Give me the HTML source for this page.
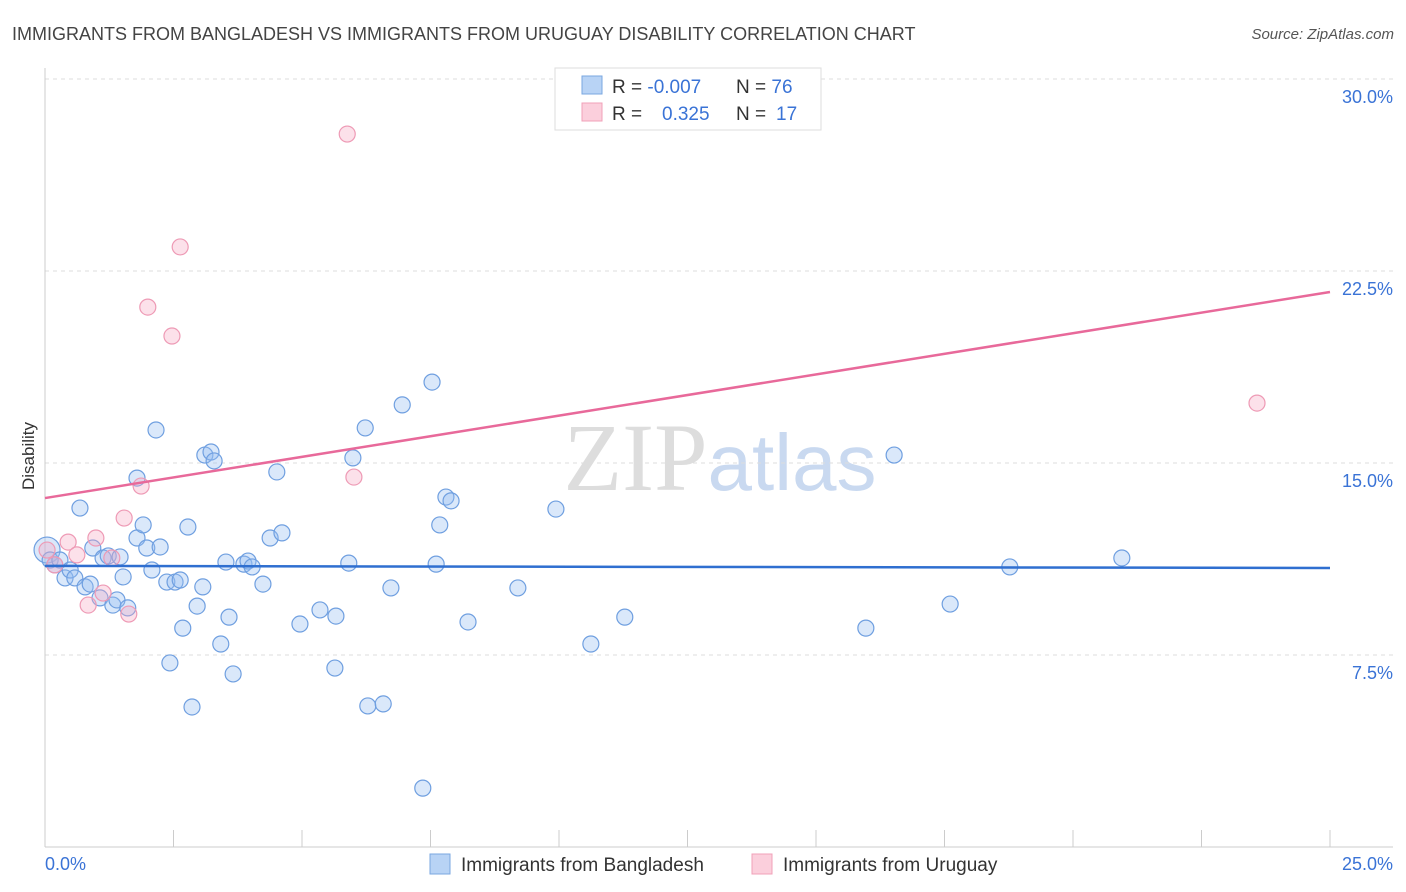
<!DOCTYPE html>
<html><head><meta charset="utf-8"><style>
body{margin:0;background:#fff;font-family:"Liberation Sans",sans-serif;}
</style></head><body>
<svg id="chart" width="1406" height="892" xmlns="http://www.w3.org/2000/svg" style="display:block">
<text x="12" y="40" font-size="18" fill="#444">IMMIGRANTS FROM BANGLADESH VS IMMIGRANTS FROM URUGUAY DISABILITY CORRELATION CHART</text>
<text x="1394" y="39" font-size="15" fill="#555" text-anchor="end" font-style="italic">Source: ZipAtlas.com</text>
<text x="720" y="490" font-size="96" text-anchor="middle" fill="#ddd" font-family="Liberation Serif">ZIP<tspan fill="#c9d9f0" font-family="Liberation Sans" font-size="80">atlas</tspan></text>
<g id="grid"></g><g id="axes"></g><g id="pts"></g><g id="trend"></g>
<text transform="translate(34,456) rotate(-90)" font-size="17" fill="#333" text-anchor="middle">Disability</text>
<g>
<rect x="555" y="68" width="266" height="62" fill="#fff" stroke="#ddd"/>
<rect x="582" y="76" width="20" height="18" fill="#b8d3f5" stroke="#7aa7e0"/>
<rect x="582" y="103" width="20" height="18" fill="#fbcfdc" stroke="#f0a0b8"/>
<text x="612" y="93" font-size="19" fill="#333">R = <tspan fill="#3a73d6">-0.007</tspan>  <tspan x="736">N = </tspan><tspan fill="#3a73d6">76</tspan></text>
<text x="612" y="120" font-size="19" fill="#333">R = <tspan x="662" fill="#3a73d6">0.325</tspan><tspan x="736">N = </tspan><tspan x="776" fill="#3a73d6">17</tspan></text>
</g>
<g>
<rect x="430" y="854" width="20" height="20" fill="#b8d3f5" stroke="#7aa7e0"/>
<text x="461" y="871" font-size="19" fill="#333">Immigrants from Bangladesh</text>
<rect x="752" y="854" width="20" height="20" fill="#fbcfdc" stroke="#f0a0b8"/>
<text x="783" y="871" font-size="19" fill="#333">Immigrants from Uruguay</text>
</g>
</svg>
<script>
const yTicks=[7.5,15,22.5,30];
const yTickLabels=["7.5%","15.0%","22.5%","30.0%"];
const xTicks=[0,2.5,5,7.5,10,12.5,15,17.5,20,22.5,25];
const blueX=[0.04,0.10,0.19,0.29,0.39,0.49,0.58,0.68,0.78,0.88,0.93,1.07,1.13,1.23,1.32,1.40,1.46,1.52,1.61,1.79,1.79,1.91,1.98,2.08,2.16,2.24,2.37,2.43,2.53,2.63,2.68,2.78,2.86,2.96,3.07,3.11,3.23,3.29,3.42,3.52,3.58,3.66,3.87,3.95,4.03,4.24,4.38,4.51,4.61,4.96,5.35,5.64,5.66,5.91,5.99,6.23,6.28,6.58,6.73,6.95,7.35,7.53,7.61,7.68,7.80,7.90,8.23,9.20,9.94,10.62,11.28,15.97,16.52,17.61,18.77,20.95];
const blueY=[11.60,11.21,11.02,11.21,10.51,10.82,10.51,13.24,10.16,10.27,11.68,9.73,11.29,11.37,9.45,9.65,11.33,10.55,9.34,14.41,12.07,12.58,11.68,10.82,16.29,11.72,10.35,7.19,10.35,10.43,8.55,12.50,5.47,9.41,10.16,15.31,15.43,15.08,7.93,11.13,8.98,6.76,11.05,11.17,10.94,10.27,12.07,14.65,12.27,8.71,9.26,6.99,9.02,11.09,15.20,16.37,5.51,5.59,10.12,17.27,2.30,18.16,11.05,12.58,13.67,13.52,8.79,10.12,13.20,7.93,8.98,8.55,15.31,9.49,10.94,11.29];
const pinkX=[0.04,0.19,0.45,0.62,0.84,0.99,1.13,1.30,1.54,1.63,1.87,2.00,2.47,2.63,5.88,6.01,23.58];
const pinkY=[11.60,11.02,11.91,11.41,9.45,12.07,9.92,11.29,12.85,9.10,14.10,21.09,19.96,23.44,27.85,14.45,17.34];
const blueTrend=[10.98,10.90];
const pinkTrend=[13.63,21.68];
const NS="http://www.w3.org/2000/svg";
const sx=v=>45+v*51.4, sy=v=>847-v*25.6;
function mk(tag,attrs,parent){const e=document.createElementNS(NS,tag);for(const k in attrs)e.setAttribute(k,attrs[k]);document.getElementById(parent).appendChild(e);return e;}
yTicks.forEach((t,i)=>{
 const g=mk('line',{x1:45,x2:1393,y1:sy(t),y2:sy(t),stroke:'#ddd','stroke-dasharray':'4,4'},'grid');
 
 
 const l=mk('text',{x:1393,y:sy(t)+24,'text-anchor':'end','font-size':18,fill:'#3a73d6'},'grid');
 l.textContent=yTickLabels[i];
 
 
});
const ax=mk('line',{x1:45,x2:45,y1:68,y2:847,stroke:'#ccc'},'axes');


const bx=mk('line',{x1:45,x2:1393,y1:847,y2:847,stroke:'#ccc'},'axes');


xTicks.forEach(t=>{
 const k=mk('line',{x1:sx(t),x2:sx(t),y1:830,y2:847,stroke:'#ccc'},'axes');
 
 
});
const x0=mk('text',{x:45,y:870,'font-size':18,fill:'#3a73d6'},'axes');x0.textContent="0.0%";


const x1=mk('text',{x:1393,y:870,'font-size':18,fill:'#3a73d6','text-anchor':'end'},'axes');x1.textContent="25.0%";


blueX.forEach((x,i)=>{
 const c=mk('circle',{cx:sx(x),cy:sy(blueY[i]),r:i===0?13:8,fill:'rgba(150,190,240,0.35)',stroke:'#6f9fe0','stroke-width':1.2},'pts');
 
 
});
pinkX.forEach((x,i)=>{
 const c=mk('circle',{cx:sx(x),cy:sy(pinkY[i]),r:8,fill:'rgba(245,170,195,0.35)',stroke:'#ee9ab5','stroke-width':1.2},'pts');
 
 
});
const t1=mk('line',{x1:sx(0),x2:sx(25),y1:sy(blueTrend[0]),y2:sy(blueTrend[1]),stroke:'#2f6fd0','stroke-width':2.5},'trend');


const t2=mk('line',{x1:sx(0),x2:sx(25),y1:sy(pinkTrend[0]),y2:sy(pinkTrend[1]),stroke:'#e8699a','stroke-width':2.5},'trend');


</script>
</body></html>
